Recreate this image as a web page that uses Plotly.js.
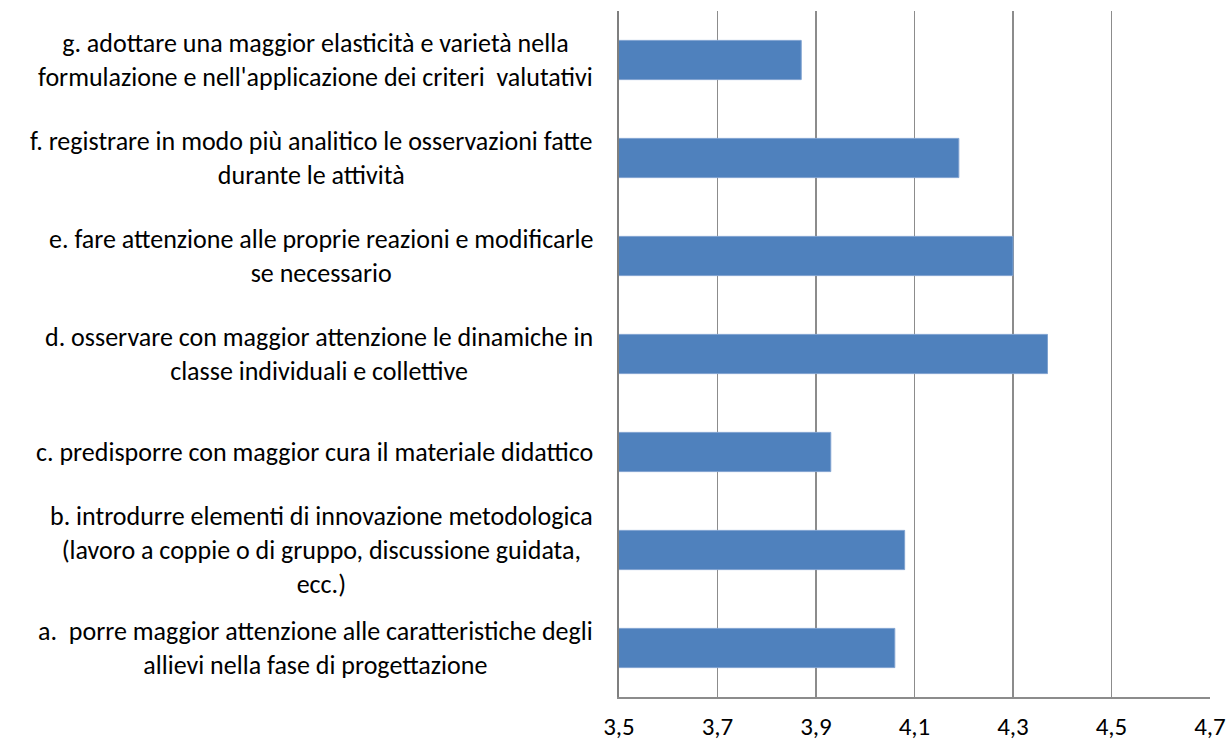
<!DOCTYPE html>
<html>
<head>
<meta charset="utf-8">
<script src="https://cdn.plot.ly/plotly-3.0.1.min.js"></script>
<style>html,body{margin:0;padding:0;background:#fff;}#chart{width:1228px;height:745px;}</style>
</head>
<body>
<div id="chart"></div>
<script>
const categories = ["a", "b", "c", "d", "e", "f", "g"];
const labels = [
  "a.  porre maggior attenzione alle caratteristiche degli<br>allievi nella fase di progettazione",
  "b. introdurre elementi di innovazione metodologica<br>(lavoro a coppie o di gruppo, discussione guidata,<br>ecc.)",
  "c. predisporre con maggior cura il materiale didattico",
  "d. osservare con maggior attenzione le dinamiche in<br>classe individuali e collettive",
  "e. fare attenzione alle proprie reazioni e modificarle<br>se necessario",
  "f. registrare in modo più analitico le osservazioni fatte<br>durante le attività",
  "g. adottare una maggior elasticità e varietà nella<br>formulazione e nell'applicazione dei criteri  valutativi"
];
const values = [4.06, 4.08, 3.93, 4.37, 4.30, 4.19, 3.87];
const tickValues = [3.5, 3.7, 3.9, 4.1, 4.3, 4.5, 4.7];

const FONT = "Carlito, Calibri, Lato, sans-serif";

const trace = {
  type: "bar",
  orientation: "h",
  y: categories,
  x: values,
  width: 0.4,
  marker: {color: "#4F81BD", line: {color: "#7FA2D0", width: 1}},
  hoverinfo: "x+y"
};

const annotations = categories.map((c, i) => ({
  xref: "paper", yref: "y", x: 0, y: c,
  xanchor: "right", yanchor: "middle", xshift: -24,
  align: "center", showarrow: false,
  text: labels[i],
  font: {family: FONT, size: 26, color: "#000"}
}));

const layout = {
  width: 1228, height: 745,
  margin: {l: 619, r: 18, t: 11, b: 48, pad: 0},
  paper_bgcolor: "#fff", plot_bgcolor: "#fff",
  separators: ",.",
  showlegend: false,
  bargap: 0.6,
  xaxis: {
    range: [3.5, 4.7], tickvals: tickValues, tickformat: ".1f",
    showgrid: true, gridcolor: "#8c8c8c", gridwidth: 1.5,
    zeroline: false, showline: true, linecolor: "#8c8c8c", linewidth: 1.5,
    ticks: "", ticklen: 0, ticklabelstandoff: 6,
    tickfont: {family: FONT, size: 25, color: "#000"},
    fixedrange: true
  },
  yaxis: {
    type: "category", categoryorder: "array", categoryarray: categories,
    showticklabels: false, showgrid: false, zeroline: false,
    showline: true, linecolor: "#7f7f7f", linewidth: 2,
    ticks: "", fixedrange: true
  },
  annotations: annotations
};

Plotly.newPlot("chart", [trace], layout, {displayModeBar: false, staticPlot: true});
</script>
</body>
</html>
